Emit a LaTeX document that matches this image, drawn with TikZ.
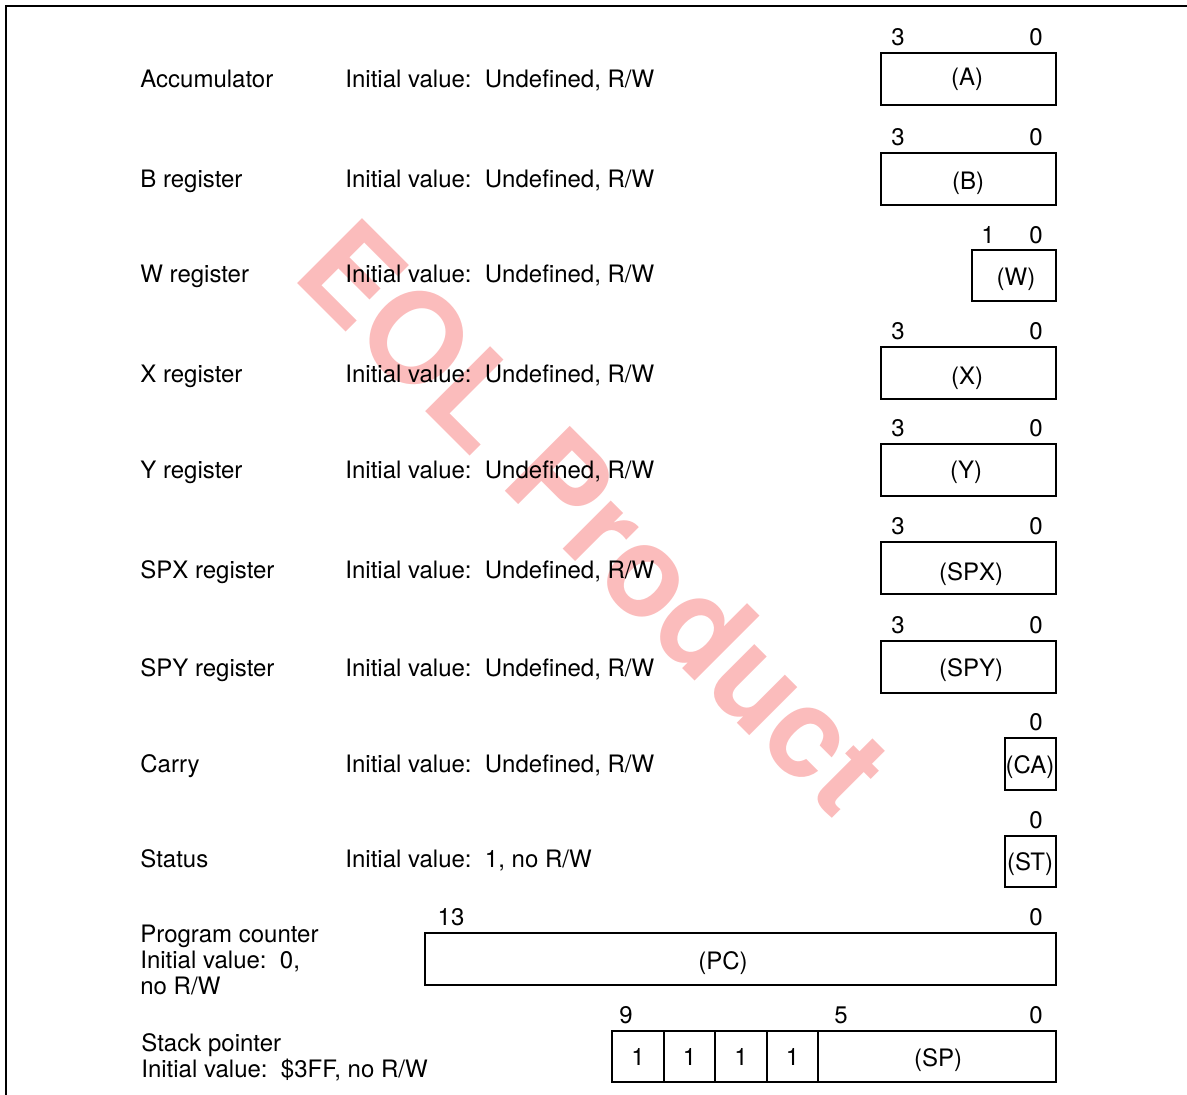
\documentclass[tikz,border=0pt]{standalone}
\usepackage{fontspec}
\setmainfont{TeX Gyre Heros}
\definecolor{wmark}{RGB}{251,188,188}

\begin{document}
\begin{tikzpicture}[x=0.5pt,y=-0.5pt,
  txt/.style={anchor=base west,inner sep=0pt,font=\fontsize{12}{14}\selectfont},
  twoline/.style={anchor=west,inner sep=0pt,align=left,font=\fontsize{12}{13.2}\selectfont},
  bit/.style={inner sep=0pt,font=\fontsize{12}{14}\selectfont},
  reg/.style={draw,line width=0.6pt}]

  \useasboundingbox (0,0) rectangle (1187,1095);

  % watermark
  \node[rotate=-45,text=wmark,font=\fontsize{63}{63}\bfseries\selectfont] (eol) at (595,516) {EOL Product};

  % frame
  \draw[line width=1pt] (6,1095) -- (6,6) -- (1187,6);

  % register names and initial values (baseline = row centre + 9)
  \foreach \n/\t/\y in {acc/Accumulator/88, b/B register/188, w/W register/283,
                        x/X register/383, y/Y register/479, spx/SPX register/578,
                        spy/SPY register/676, ca/Carry/772} {
    \node[txt] (\n-name) at (140,\y) {\t};
    \node[txt] (\n-init) at (345,\y) {Initial value:\ \ Undefined, R/W};
  }
  \node[txt] (st-name) at (140,867) {Status};
  \node[txt] (st-init) at (345,867) {Initial value:\ \ 1, no R/W};

  \node[twoline] (pc-name) at (140,960) {Program counter\\Initial value:\ \ 0,\\no R/W};
  \node[twoline] (sp-name) at (141,1057) {Stack pointer\\Initial value:\ \ \$3FF, no R/W};

  % 4-bit registers
  \foreach \n/\top/\lx/\ly in {A/53/967/79, B/153/968/183, X/347/967/378, Y/444/966/472,
                               SPX/542/971/574, SPY/641/971/670} {
    \draw[reg] (881,\top) rectangle ++(175,52);
    \node[bit] (\n) at (\lx,\ly) {(\n)};
    \node[bit] (\n-hi) at (898,\top-16) {3};
    \node[bit] (\n-lo) at (1036,\top-16) {0};
  }

  % W register
  \draw[reg] (972,250) rectangle (1056,301);
  \node[bit] (W) at (1016,279) {(W)};
  \node[bit] (W-hi) at (988,235) {1};
  \node[bit] (W-lo) at (1036,235) {0};

  % carry and status
  \draw[reg] (1005,738) rectangle (1056,790);
  \node[bit] (CA) at (1030,767) {(CA)};
  \node[bit] (CA-lo) at (1036,722) {0};
  \draw[reg] (1005,836) rectangle (1056,887);
  \node[bit] (ST) at (1030,864) {(ST)};
  \node[bit] (ST-lo) at (1036,820) {0};

  % program counter
  \draw[reg] (425,933) rectangle (1056,985);
  \node[bit] (PC) at (723,963) {(PC)};
  \node[bit] (PC-hi) at (451,917) {13};
  \node[bit] (PC-lo) at (1036,917) {0};

  % stack pointer
  \draw[reg] (612,1031) rectangle (1056,1082);
  \foreach \i/\xa/\xb in {1/612/664, 2/664/715, 3/715/767, 4/767/818} {
    \draw[reg] (\xb,1031) -- (\xb,1082);
    \node[bit] (one\i) at ({(\xa+\xb)/2},1057) {1};
  }
  \node[bit] (SP) at (938,1060) {(SP)};
  \node[bit] (SP-hi) at (626,1015) {9};
  \node[bit] (SP-mid) at (841,1015) {5};
  \node[bit] (SP-lo) at (1036,1015) {0};

\end{tikzpicture}
\end{document}
